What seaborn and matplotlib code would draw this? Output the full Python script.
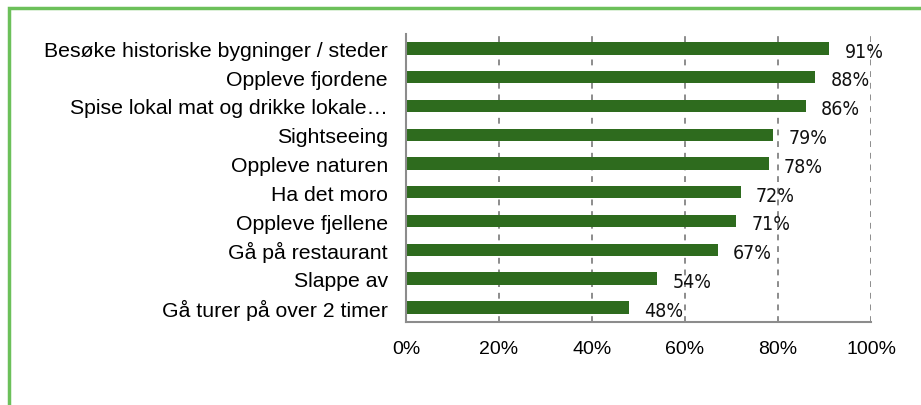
import matplotlib
matplotlib.use('Agg')
import matplotlib.pyplot as plt
import seaborn as sns
import pandas as pd
from matplotlib.patches import Rectangle
from matplotlib.ticker import FixedLocator

# Data
activities = ['Besøke historiske bygninger / steder', 'Oppleve fjordene',
              'Spise lokal mat og drikke lokale…', 'Sightseeing', 'Oppleve naturen',
              'Ha det moro', 'Oppleve fjellene', 'Gå på restaurant', 'Slappe av',
              'Gå turer på over 2 timer']
shares = [91, 88, 86, 79, 78, 72, 71, 67, 54, 48]
x_ticks = [0, 20, 40, 60, 80, 100]
x_tick_labels = ['0%', '20%', '40%', '60%', '80%', '100%']

df = pd.DataFrame({'activity': activities, 'share': shares})

sns.set_style('white')
plt.rcParams['font.family'] = ['Liberation Sans', 'DejaVu Sans']
plt.rcParams['text.color'] = 'black'

fig = plt.figure(figsize=(9.21, 4.06), dpi=100)
ax = fig.add_axes([406 / 921, 83.3 / 406, 465 / 921, 287.7 / 406])

sns.barplot(data=df, x='share', y='activity', orient='h', color='#2e6b1e',
            width=0.43, saturation=1, linewidth=0, ax=ax)

ax.set_xlim(0, 100)
ax.set_ylim(len(activities) - 0.5, -0.5)
ax.set_xticks(x_ticks)
ax.set_xticklabels(x_tick_labels, fontsize=14)
ax.set_xlabel('')
ax.set_ylabel('')
ax.tick_params(axis='y', length=0, labelsize=15.3, pad=13, labelcolor='black')
ax.tick_params(axis='x', length=6, width=1.5, color='#8c8c8c', direction='out', pad=7,
               labelcolor='black')
ax.yaxis.set_minor_locator(FixedLocator([i - 0.5 for i in range(len(activities) + 1)]))
ax.tick_params(axis='y', which='minor', length=5, width=1.5, color='#8c8c8c', direction='out')

ax.xaxis.grid(True, color='#8c8c8c', linestyle=(0, (3, 3)), linewidth=1.4)
ax.set_axisbelow(True)
for side in ['top', 'right']:
    ax.spines[side].set_visible(False)
for side in ['left', 'bottom']:
    ax.spines[side].set_color('#8c8c8c')
    ax.spines[side].set_linewidth(1.5)

value_texts = ax.bar_label(ax.containers[0], labels=['%d%%' % v for v in shares], padding=11,
                           fontsize=14, color='#111111', family='DejaVu Sans',
                           fontstretch='condensed')
for t in value_texts:
    t.xyann = (t.xyann[0], -2)

# green frame around the chart area
fig.add_artist(Rectangle((9 / 921, -0.5), 2, 1.5 - 8.5 / 406, transform=fig.transFigure,
                         fill=False, edgecolor='#6cc05a', linewidth=2.5))

fig.savefig('out.png', dpi=100)
